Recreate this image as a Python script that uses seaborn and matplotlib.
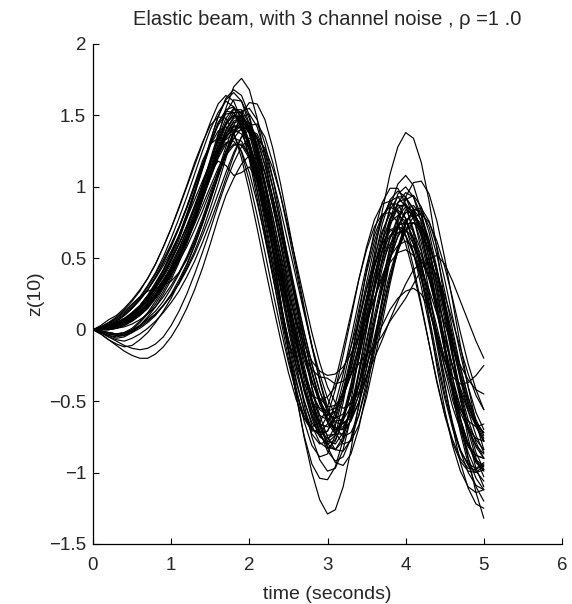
import matplotlib
matplotlib.use("Agg")
import matplotlib.pyplot as plt
import seaborn as sns
import pandas as pd

# time grid (seconds), 0.1 s step
time_s = [round(0.1 * i, 1) for i in range(51)]

# z(10) trajectories
k01 = [0, 0.01, 0.02, 0.04, 0.07, 0.12, 0.17, 0.24, 0.33, 0.42, 0.54, 0.66, 0.81, 0.97, 1.13, 1.30, 1.45, 1.53, 1.52, 1.41, 1.21, 0.97, 0.70, 0.44, 0.18, -0.07, -0.30, -0.50, -0.65, -0.72, -0.71, -0.61, -0.42, -0.19, 0.05, 0.29, 0.51, 0.69, 0.81, 0.84, 0.78, 0.63, 0.42, 0.17, -0.08, -0.33, -0.54, -0.70, -0.82, -0.88, -0.90]
k02 = [0, -0.02, -0.04, -0.06, -0.05, -0.02, 0.03, 0.08, 0.13, 0.20, 0.29, 0.39, 0.50, 0.62, 0.76, 0.92, 1.08, 1.24, 1.38, 1.46, 1.45, 1.34, 1.15, 0.92, 0.67, 0.42, 0.17, -0.07, -0.29, -0.48, -0.62, -0.69, -0.68, -0.58, -0.40, -0.18, 0.05, 0.28, 0.49, 0.66, 0.77, 0.80, 0.74, 0.60, 0.40, 0.16, -0.08, -0.31, -0.51, -0.67, -0.78]
k03 = [0, -0.01, -0.03, -0.04, -0.03, 0.00, 0.05, 0.11, 0.18, 0.27, 0.37, 0.49, 0.62, 0.78, 0.96, 1.15, 1.35, 1.55, 1.70, 1.76, 1.68, 1.48, 1.20, 0.90, 0.60, 0.30, 0.02, -0.25, -0.48, -0.66, -0.78, -0.80, -0.72, -0.55, -0.32, -0.07, 0.19, 0.43, 0.64, 0.79, 0.86, 0.83, 0.70, 0.50, 0.26, 0.00, -0.26, -0.49, -0.68, -0.82, -0.90]
k04 = [0, -0.01, -0.02, -0.03, -0.02, 0.01, 0.06, 0.12, 0.20, 0.29, 0.40, 0.52, 0.66, 0.82, 0.99, 1.17, 1.34, 1.48, 1.55, 1.52, 1.38, 1.15, 0.86, 0.54, 0.20, -0.14, -0.46, -0.75, -1.00, -1.19, -1.29, -1.26, -1.10, -0.84, -0.52, -0.17, 0.18, 0.50, 0.77, 0.95, 1.00, 0.93, 0.75, 0.49, 0.18, -0.14, -0.45, -0.72, -0.94, -1.10, -1.20]
k05 = [0, 0.00, 0.01, 0.03, 0.06, 0.10, 0.15, 0.21, 0.29, 0.38, 0.48, 0.60, 0.73, 0.87, 1.02, 1.18, 1.33, 1.45, 1.50, 1.46, 1.32, 1.10, 0.84, 0.56, 0.28, 0.00, -0.26, -0.49, -0.67, -0.79, -0.83, -0.78, -0.63, -0.40, -0.11, 0.21, 0.53, 0.83, 1.09, 1.28, 1.38, 1.34, 1.17, 0.90, 0.56, 0.20, -0.16, -0.48, -0.76, -0.97, -1.10]
k06 = [0, 0.00, 0.01, 0.03, 0.06, 0.10, 0.15, 0.22, 0.30, 0.39, 0.49, 0.60, 0.72, 0.85, 0.98, 1.10, 1.18, 1.15, 1.08, 1.10, 1.14, 1.05, 0.86, 0.62, 0.38, 0.14, -0.09, -0.29, -0.45, -0.56, -0.60, -0.57, -0.47, -0.31, -0.11, 0.10, 0.30, 0.47, 0.60, 0.68, 0.70, 0.64, 0.52, 0.35, 0.15, -0.06, -0.26, -0.43, -0.57, -0.67, -0.72]
k07 = [0, 0.01, 0.03, 0.06, 0.10, 0.15, 0.21, 0.28, 0.36, 0.45, 0.55, 0.66, 0.78, 0.91, 1.04, 1.17, 1.28, 1.36, 1.40, 1.37, 1.26, 1.08, 0.86, 0.63, 0.40, 0.18, -0.02, -0.18, -0.28, -0.33, -0.34, -0.38, -0.36, -0.31, -0.24, -0.17, -0.12, -0.04, 0.06, 0.14, 0.22, 0.32, 0.42, 0.50, 0.52, 0.46, 0.34, 0.20, 0.06, -0.08, -0.20]
k08 = [0, 0.00, 0.00, 0.01, 0.03, 0.06, 0.10, 0.15, 0.22, 0.30, 0.39, 0.50, 0.62, 0.76, 0.91, 1.06, 1.21, 1.34, 1.42, 1.44, 1.38, 1.24, 1.03, 0.79, 0.54, 0.29, 0.05, -0.17, -0.36, -0.50, -0.59, -0.62, -0.59, -0.50, -0.38, -0.24, -0.10, 0.03, 0.14, 0.22, 0.27, 0.29, 0.25, 0.14, -0.02, -0.20, -0.38, -0.54, -0.67, -0.77, -0.84]
k09 = [0, -0.03, -0.07, -0.10, -0.12, -0.11, -0.07, -0.02, 0.05, 0.13, 0.22, 0.33, 0.45, 0.59, 0.74, 0.91, 1.08, 1.25, 1.39, 1.49, 1.51, 1.42, 1.24, 1.00, 0.74, 0.47, 0.20, -0.06, -0.30, -0.50, -0.64, -0.71, -0.69, -0.58, -0.39, -0.15, 0.10, 0.35, 0.57, 0.73, 0.82, 0.82, 0.72, 0.55, 0.32, 0.07, -0.19, -0.43, -0.63, -0.79, -0.90]
k10 = [0, -0.02, -0.05, -0.07, -0.08, -0.06, -0.03, 0.01, 0.06, 0.12, 0.19, 0.27, 0.37, 0.48, 0.61, 0.75, 0.90, 1.06, 1.22, 1.35, 1.43, 1.44, 1.35, 1.17, 0.94, 0.68, 0.41, 0.14, -0.12, -0.35, -0.54, -0.68, -0.75, -0.72, -0.60, -0.40, -0.16, 0.10, 0.36, 0.58, 0.75, 0.84, 0.83, 0.72, 0.52, 0.27, 0.00, -0.26, -0.48, -0.65, -0.76]
k11 = [0, 0.03, 0.07, 0.10, 0.15, 0.21, 0.28, 0.36, 0.46, 0.58, 0.71, 0.85, 1.00, 1.15, 1.30, 1.45, 1.58, 1.64, 1.60, 1.47, 1.25, 0.98, 0.68, 0.38, 0.08, -0.20, -0.44, -0.62, -0.71, -0.70, -0.60, -0.42, -0.18, 0.08, 0.35, 0.58, 0.77, 0.88, 0.90, 0.82, 0.66, 0.44, 0.18, -0.10, -0.37, -0.60, -0.79, -0.92, -0.99, -1.00, -0.95]
k12 = [0, 0.02, 0.05, 0.08, 0.12, 0.17, 0.23, 0.31, 0.40, 0.51, 0.64, 0.78, 0.93, 1.09, 1.25, 1.40, 1.52, 1.60, 1.56, 1.42, 1.19, 0.92, 0.64, 0.37, 0.11, -0.14, -0.37, -0.56, -0.69, -0.74, -0.71, -0.58, -0.37, -0.12, 0.14, 0.40, 0.62, 0.79, 0.88, 0.88, 0.78, 0.60, 0.36, 0.09, -0.19, -0.45, -0.67, -0.84, -0.95, -1.00, -0.98]
k13 = [0, -0.03, -0.07, -0.11, -0.15, -0.18, -0.20, -0.20, -0.17, -0.12, -0.05, 0.04, 0.15, 0.28, 0.43, 0.60, 0.78, 0.94, 1.06, 1.16, 1.22, 1.20, 1.10, 0.92, 0.70, 0.46, 0.22, -0.02, -0.24, -0.43, -0.57, -0.65, -0.66, -0.60, -0.46, -0.27, -0.05, 0.18, 0.40, 0.58, 0.70, 0.75, 0.71, 0.60, 0.42, 0.20, -0.04, -0.27, -0.47, -0.63, -0.74]
k14 = [0, 0.00, 0.01, 0.03, 0.05, 0.08, 0.12, 0.18, 0.25, 0.34, 0.44, 0.56, 0.70, 0.85, 1.01, 1.19, 1.37, 1.52, 1.61, 1.60, 1.48, 1.27, 1.01, 0.73, 0.45, 0.17, -0.10, -0.35, -0.56, -0.72, -0.82, -0.84, -0.75, -0.55, -0.29, 0.00, 0.29, 0.55, 0.76, 0.89, 0.92, 0.85, 0.68, 0.45, 0.17, -0.12, -0.39, -0.62, -0.80, -0.92, -0.98]
k15 = [0, -0.01, -0.02, -0.03, -0.02, 0.00, 0.03, 0.07, 0.11, 0.17, 0.24, 0.32, 0.42, 0.53, 0.66, 0.80, 0.95, 1.10, 1.24, 1.35, 1.40, 1.37, 1.25, 1.06, 0.84, 0.60, 0.36, 0.12, -0.11, -0.31, -0.48, -0.60, -0.65, -0.62, -0.51, -0.33, -0.11, 0.13, 0.36, 0.55, 0.69, 0.75, 0.72, 0.60, 0.41, 0.18, -0.07, -0.31, -0.51, -0.67, -0.78]
k16 = [0, 0.01, 0.02, 0.04, 0.07, 0.11, 0.16, 0.22, 0.29, 0.37, 0.46, 0.57, 0.69, 0.82, 0.96, 1.10, 1.23, 1.31, 1.32, 1.25, 1.10, 0.89, 0.65, 0.40, 0.16, -0.07, -0.25, -0.38, -0.46, -0.49, -0.47, -0.40, -0.28, -0.12, 0.07, 0.28, 0.46, 0.60, 0.69, 0.71, 0.66, 0.54, 0.37, 0.16, -0.06, -0.26, -0.43, -0.56, -0.64, -0.68, -0.66]
k17 = [0, 0.00, 0.01, 0.02, 0.04, 0.07, 0.11, 0.16, 0.23, 0.31, 0.41, 0.52, 0.65, 0.80, 0.96, 1.13, 1.30, 1.45, 1.54, 1.54, 1.44, 1.25, 1.01, 0.74, 0.47, 0.20, -0.06, -0.30, -0.51, -0.68, -0.80, -0.84, -0.78, -0.62, -0.38, -0.10, 0.20, 0.48, 0.72, 0.89, 0.96, 0.93, 0.80, 0.58, 0.30, -0.01, -0.33, -0.62, -0.90, -1.14, -1.32]
k18 = [0, 0.01, 0.02, 0.03, 0.05, 0.08, 0.12, 0.17, 0.23, 0.30, 0.38, 0.48, 0.58, 0.70, 0.83, 0.97, 1.10, 1.22, 1.29, 1.30, 1.22, 1.06, 0.86, 0.64, 0.42, 0.19, -0.02, -0.21, -0.37, -0.48, -0.54, -0.53, -0.46, -0.32, -0.15, 0.04, 0.22, 0.38, 0.51, 0.59, 0.62, 0.58, 0.49, 0.36, 0.20, 0.04, -0.12, -0.25, -0.35, -0.42, -0.45]
k19 = [0, -0.01, -0.02, -0.03, -0.03, -0.01, 0.02, 0.06, 0.11, 0.17, 0.24, 0.33, 0.43, 0.55, 0.69, 0.85, 1.02, 1.20, 1.37, 1.51, 1.59, 1.58, 1.47, 1.27, 1.02, 0.74, 0.45, 0.16, -0.11, -0.36, -0.57, -0.72, -0.80, -0.78, -0.67, -0.47, -0.22, 0.05, 0.32, 0.56, 0.74, 0.84, 0.85, 0.76, 0.58, 0.35, 0.09, -0.17, -0.40, -0.58, -0.70]
k20 = [0, 0.02, 0.05, 0.09, 0.14, 0.20, 0.27, 0.36, 0.46, 0.58, 0.71, 0.86, 1.01, 1.17, 1.31, 1.43, 1.49, 1.48, 1.38, 1.20, 0.97, 0.71, 0.44, 0.18, -0.07, -0.30, -0.49, -0.62, -0.68, -0.65, -0.54, -0.36, -0.13, 0.11, 0.35, 0.56, 0.72, 0.81, 0.82, 0.75, 0.60, 0.40, 0.16, -0.10, -0.36, -0.59, -0.77, -0.90, -0.97, -0.98, -0.94]
k21 = [0, 0.00, 0.01, 0.02, 0.04, 0.07, 0.11, 0.16, 0.23, 0.31, 0.40, 0.51, 0.64, 0.78, 0.94, 1.11, 1.28, 1.43, 1.52, 1.52, 1.41, 1.20, 0.94, 0.65, 0.35, 0.05, -0.25, -0.52, -0.75, -0.91, -0.99, -0.97, -0.84, -0.61, -0.31, 0.01, 0.33, 0.62, 0.86, 1.02, 1.08, 1.01, 0.83, 0.56, 0.24, -0.10, -0.42, -0.69, -0.90, -1.04, -1.12]
k22 = [0, 0.01, 0.02, 0.04, 0.06, 0.09, 0.13, 0.18, 0.25, 0.33, 0.42, 0.53, 0.65, 0.79, 0.94, 1.10, 1.26, 1.40, 1.49, 1.50, 1.42, 1.26, 1.04, 0.79, 0.52, 0.25, -0.03, -0.29, -0.52, -0.71, -0.85, -0.92, -0.89, -0.76, -0.54, -0.27, 0.03, 0.32, 0.58, 0.78, 0.91, 0.94, 0.86, 0.68, 0.43, 0.14, -0.16, -0.44, -0.68, -0.86, -0.98]
k23 = [0, 0.00, 0.02, 0.05, 0.08, 0.10, 0.13, 0.19, 0.27, 0.35, 0.43, 0.52, 0.64, 0.78, 0.92, 1.06, 1.20, 1.30, 1.34, 1.32, 1.22, 1.04, 0.82, 0.58, 0.35, 0.12, -0.10, -0.30, -0.45, -0.55, -0.57, -0.55, -0.44, -0.26, -0.06, 0.16, 0.38, 0.55, 0.66, 0.72, 0.70, 0.60, 0.45, 0.24, 0.02, -0.21, -0.42, -0.58, -0.70, -0.76, -0.78]
k24 = [0, 0.00, 0.00, 0.01, 0.03, 0.06, 0.10, 0.15, 0.22, 0.30, 0.39, 0.50, 0.62, 0.76, 0.91, 1.07, 1.23, 1.37, 1.46, 1.49, 1.44, 1.30, 1.10, 0.86, 0.60, 0.34, 0.08, -0.17, -0.40, -0.60, -0.75, -0.84, -0.85, -0.77, -0.60, -0.36, -0.08, 0.22, 0.50, 0.75, 0.93, 1.03, 1.04, 0.95, 0.76, 0.50, 0.20, -0.11, -0.40, -0.65, -0.84]
k25 = [0, 0.01, 0.02, 0.04, 0.07, 0.11, 0.16, 0.23, 0.31, 0.41, 0.52, 0.65, 0.79, 0.95, 1.12, 1.29, 1.44, 1.54, 1.56, 1.48, 1.30, 1.06, 0.78, 0.49, 0.20, -0.09, -0.35, -0.57, -0.73, -0.80, -0.78, -0.67, -0.47, -0.22, 0.06, 0.33, 0.58, 0.78, 0.90, 0.93, 0.86, 0.70, 0.47, 0.19, -0.11, -0.40, -0.65, -0.85, -1.00, -1.09, -1.12]
k26 = [0, -0.01, -0.03, -0.04, -0.04, -0.02, 0.01, 0.05, 0.10, 0.17, 0.25, 0.35, 0.46, 0.59, 0.74, 0.90, 1.07, 1.24, 1.37, 1.44, 1.43, 1.33, 1.15, 0.93, 0.69, 0.44, 0.18, -0.07, -0.30, -0.50, -0.65, -0.73, -0.73, -0.63, -0.45, -0.21, 0.05, 0.31, 0.54, 0.72, 0.82, 0.84, 0.77, 0.62, 0.41, 0.16, -0.10, -0.35, -0.57, -0.74, -0.86]
k27 = [0, 0.01, 0.02, 0.04, 0.06, 0.10, 0.14, 0.20, 0.27, 0.35, 0.44, 0.55, 0.67, 0.80, 0.94, 1.09, 1.23, 1.35, 1.42, 1.41, 1.31, 1.14, 0.93, 0.71, 0.48, 0.25, 0.06, -0.10, -0.22, -0.29, -0.32, -0.31, -0.26, -0.17, -0.05, 0.08, 0.22, 0.36, 0.47, 0.54, 0.56, 0.52, 0.42, 0.28, 0.11, -0.07, -0.25, -0.41, -0.55, -0.65, -0.72]
k28 = [0, 0.01, 0.03, 0.05, 0.08, 0.12, 0.17, 0.24, 0.32, 0.42, 0.53, 0.66, 0.81, 0.97, 1.14, 1.32, 1.49, 1.62, 1.68, 1.64, 1.50, 1.28, 1.00, 0.70, 0.40, 0.10, -0.18, -0.43, -0.62, -0.75, -0.79, -0.74, -0.60, -0.38, -0.11, 0.17, 0.44, 0.67, 0.84, 0.93, 0.93, 0.84, 0.66, 0.42, 0.14, -0.15, -0.43, -0.67, -0.86, -0.99, -1.06]
k29 = [0, 0.00, 0.00, 0.01, 0.02, 0.04, 0.07, 0.11, 0.16, 0.23, 0.31, 0.40, 0.51, 0.64, 0.78, 0.94, 1.11, 1.28, 1.43, 1.53, 1.55, 1.47, 1.30, 1.06, 0.78, 0.48, 0.17, -0.13, -0.41, -0.64, -0.82, -0.93, -0.95, -0.87, -0.69, -0.43, -0.12, 0.20, 0.49, 0.71, 0.84, 0.87, 0.80, 0.63, 0.39, 0.11, -0.19, -0.47, -0.71, -0.90, -1.03]
k30 = [0, 0.01, 0.02, 0.04, 0.06, 0.09, 0.13, 0.18, 0.25, 0.33, 0.42, 0.53, 0.65, 0.79, 0.94, 1.10, 1.25, 1.37, 1.43, 1.41, 1.30, 1.12, 0.89, 0.64, 0.38, 0.13, -0.11, -0.32, -0.49, -0.60, -0.63, -0.57, -0.43, -0.23, 0.00, 0.23, 0.44, 0.60, 0.70, 0.72, 0.66, 0.53, 0.35, 0.14, -0.06, -0.22, -0.33, -0.38, -0.37, -0.32, -0.25]
k31 = [0, -0.02, -0.04, -0.05, -0.04, -0.01, 0.03, 0.09, 0.16, 0.25, 0.35, 0.47, 0.60, 0.75, 0.91, 1.08, 1.25, 1.39, 1.48, 1.49, 1.40, 1.22, 0.99, 0.73, 0.47, 0.20, -0.06, -0.30, -0.51, -0.66, -0.74, -0.73, -0.63, -0.44, -0.20, 0.06, 0.32, 0.56, 0.74, 0.85, 0.88, 0.81, 0.65, 0.42, 0.15, -0.13, -0.40, -0.63, -0.81, -0.93, -0.99]
k32 = [0, 0.01, 0.03, 0.06, 0.10, 0.15, 0.21, 0.28, 0.37, 0.47, 0.58, 0.71, 0.85, 1.00, 1.15, 1.30, 1.43, 1.51, 1.52, 1.44, 1.27, 1.03, 0.75, 0.45, 0.15, -0.14, -0.41, -0.64, -0.81, -0.89, -0.87, -0.74, -0.51, -0.22, 0.10, 0.42, 0.69, 0.89, 0.99, 0.99, 0.88, 0.67, 0.39, 0.07, -0.26, -0.56, -0.81, -0.99, -1.10, -1.14, -1.12]
k33 = [0, 0.01, 0.04, 0.08, 0.13, 0.18, 0.23, 0.27, 0.29, 0.31, 0.34, 0.40, 0.49, 0.61, 0.75, 0.91, 1.07, 1.22, 1.34, 1.41, 1.42, 1.35, 1.20, 0.99, 0.75, 0.50, 0.24, -0.01, -0.24, -0.43, -0.57, -0.64, -0.63, -0.54, -0.38, -0.17, 0.06, 0.29, 0.50, 0.65, 0.74, 0.75, 0.68, 0.54, 0.35, 0.12, -0.12, -0.34, -0.53, -0.68, -0.78]
k34 = [0, 0.00, 0.01, 0.03, 0.05, 0.08, 0.12, 0.17, 0.24, 0.32, 0.41, 0.51, 0.62, 0.74, 0.87, 1.00, 1.13, 1.24, 1.30, 1.29, 1.20, 1.03, 0.81, 0.56, 0.30, 0.04, -0.21, -0.42, -0.59, -0.71, -0.76, -0.73, -0.62, -0.44, -0.21, 0.04, 0.28, 0.49, 0.64, 0.73, 0.75, 0.69, 0.55, 0.36, 0.13, -0.11, -0.34, -0.54, -0.70, -0.81, -0.87]
k35 = [0, -0.02, -0.05, -0.08, -0.11, -0.13, -0.14, -0.13, -0.10, -0.05, 0.03, 0.13, 0.25, 0.39, 0.54, 0.70, 0.87, 1.03, 1.17, 1.28, 1.34, 1.34, 1.27, 1.13, 0.94, 0.71, 0.47, 0.22, -0.02, -0.23, -0.40, -0.51, -0.55, -0.52, -0.44, -0.33, -0.20, -0.07, 0.07, 0.20, 0.32, 0.42, 0.47, 0.46, 0.38, 0.24, 0.06, -0.13, -0.31, -0.46, -0.56]
k36 = [0, 0.00, 0.01, 0.03, 0.06, 0.10, 0.15, 0.21, 0.29, 0.39, 0.50, 0.63, 0.78, 0.95, 1.13, 1.32, 1.49, 1.61, 1.66, 1.60, 1.44, 1.20, 0.90, 0.56, 0.21, -0.14, -0.46, -0.74, -0.94, -1.04, -1.05, -0.96, -0.77, -0.50, -0.18, 0.16, 0.48, 0.74, 0.91, 0.97, 0.93, 0.79, 0.56, 0.27, -0.05, -0.38, -0.68, -0.93, -1.11, -1.22, -1.25]
k37 = [0, 0.00, 0.01, 0.02, 0.04, 0.07, 0.11, 0.16, 0.23, 0.31, 0.40, 0.51, 0.63, 0.77, 0.92, 1.08, 1.24, 1.37, 1.45, 1.46, 1.40, 1.27, 1.09, 0.87, 0.63, 0.38, 0.12, -0.13, -0.35, -0.52, -0.64, -0.70, -0.70, -0.64, -0.51, -0.33, -0.11, 0.13, 0.36, 0.55, 0.70, 0.79, 0.81, 0.75, 0.62, 0.44, 0.22, -0.02, -0.24, -0.42, -0.56]
k38 = [0, 0.01, 0.03, 0.06, 0.10, 0.15, 0.21, 0.28, 0.37, 0.47, 0.59, 0.72, 0.86, 1.01, 1.16, 1.29, 1.39, 1.42, 1.37, 1.24, 1.04, 0.80, 0.54, 0.27, 0.01, -0.23, -0.44, -0.60, -0.70, -0.72, -0.66, -0.52, -0.31, -0.06, 0.20, 0.45, 0.66, 0.80, 0.86, 0.83, 0.72, 0.54, 0.30, 0.04, -0.23, -0.48, -0.69, -0.85, -0.94, -0.97, -0.93]
k39 = [0, 0.02, 0.04, 0.07, 0.11, 0.16, 0.22, 0.30, 0.39, 0.49, 0.60, 0.72, 0.86, 1.02, 1.18, 1.30, 1.34, 1.33, 1.38, 1.40, 1.30, 1.10, 0.85, 0.58, 0.31, 0.05, -0.19, -0.40, -0.56, -0.66, -0.68, -0.62, -0.48, -0.28, -0.04, 0.21, 0.44, 0.63, 0.75, 0.80, 0.76, 0.64, 0.46, 0.23, -0.02, -0.27, -0.49, -0.67, -0.80, -0.88, -0.90]
k40 = [0, 0.00, 0.02, 0.04, 0.07, 0.11, 0.16, 0.22, 0.30, 0.39, 0.49, 0.60, 0.72, 0.86, 1.01, 1.17, 1.32, 1.44, 1.50, 1.48, 1.37, 1.18, 0.94, 0.67, 0.40, 0.12, -0.15, -0.40, -0.60, -0.74, -0.80, -0.77, -0.64, -0.43, -0.17, 0.11, 0.38, 0.61, 0.78, 0.87, 0.87, 0.78, 0.61, 0.38, 0.12, -0.15, -0.41, -0.63, -0.80, -0.91, -0.96]

runs = [k01, k02, k03, k04, k05, k06, k07, k08, k09, k10, k11, k12, k13, k14, k15, k16, k17,
        k18, k19, k20, k21, k22, k23, k24, k25, k26, k27, k28, k29, k30, k31, k32, k33, k34,
        k35, k36, k37, k38, k39, k40]

x_ticks = [0, 1, 2, 3, 4, 5, 6]
y_ticks = [-1.5, -1, -0.5, 0, 0.5, 1, 1.5, 2]
y_tick_labels = ["\u22121.5", "\u22121", "\u22120.5", "0", "0.5", "1", "1.5", "2"]

title_text = "Elastic beam, with 3 channel noise , \u03c1 =1 .0"
x_label = "time (seconds)"
y_label = "z(10)"

rows = []
for i, c in enumerate(runs):
    for t, z in zip(time_s, c):
        rows.append({"run": i, "t": t, "z": z})
df = pd.DataFrame(rows)

sns.set_style("ticks")
plt.rcParams["font.family"] = ["Liberation Sans", "DejaVu Sans"]
plt.rcParams["xtick.direction"] = "in"
plt.rcParams["ytick.direction"] = "in"

fig = plt.figure(figsize=(5.72, 6.04), dpi=100)
ax = fig.add_axes([93 / 572, 1 - 544 / 604, (562 - 93) / 572, (544 - 44) / 604])

sns.lineplot(data=df, x="t", y="z", units="run", estimator=None, color="black",
             linewidth=0.85, ax=ax, legend=False)

ax.set_xlim(0, 6)
ax.set_ylim(-1.5, 2)
ax.set_xticks(x_ticks)
ax.set_yticks(y_ticks)
ax.set_yticklabels(y_tick_labels)
ax.tick_params(labelsize=13.5, length=4, width=0.8, color="black")
ax.tick_params(axis="x", pad=9)
ax.tick_params(axis="y", pad=5)
for s in ["top", "right"]:
    ax.spines[s].set_visible(False)
for s in ["left", "bottom"]:
    ax.spines[s].set_linewidth(0.9)
    ax.spines[s].set_color("black")

ax.set_xlabel(x_label, fontsize=14, labelpad=9)
ax.set_ylabel(y_label, fontsize=14, labelpad=3)
ax.set_title(title_text, fontsize=14.5, pad=14)

fig.savefig("out.png", dpi=100)
